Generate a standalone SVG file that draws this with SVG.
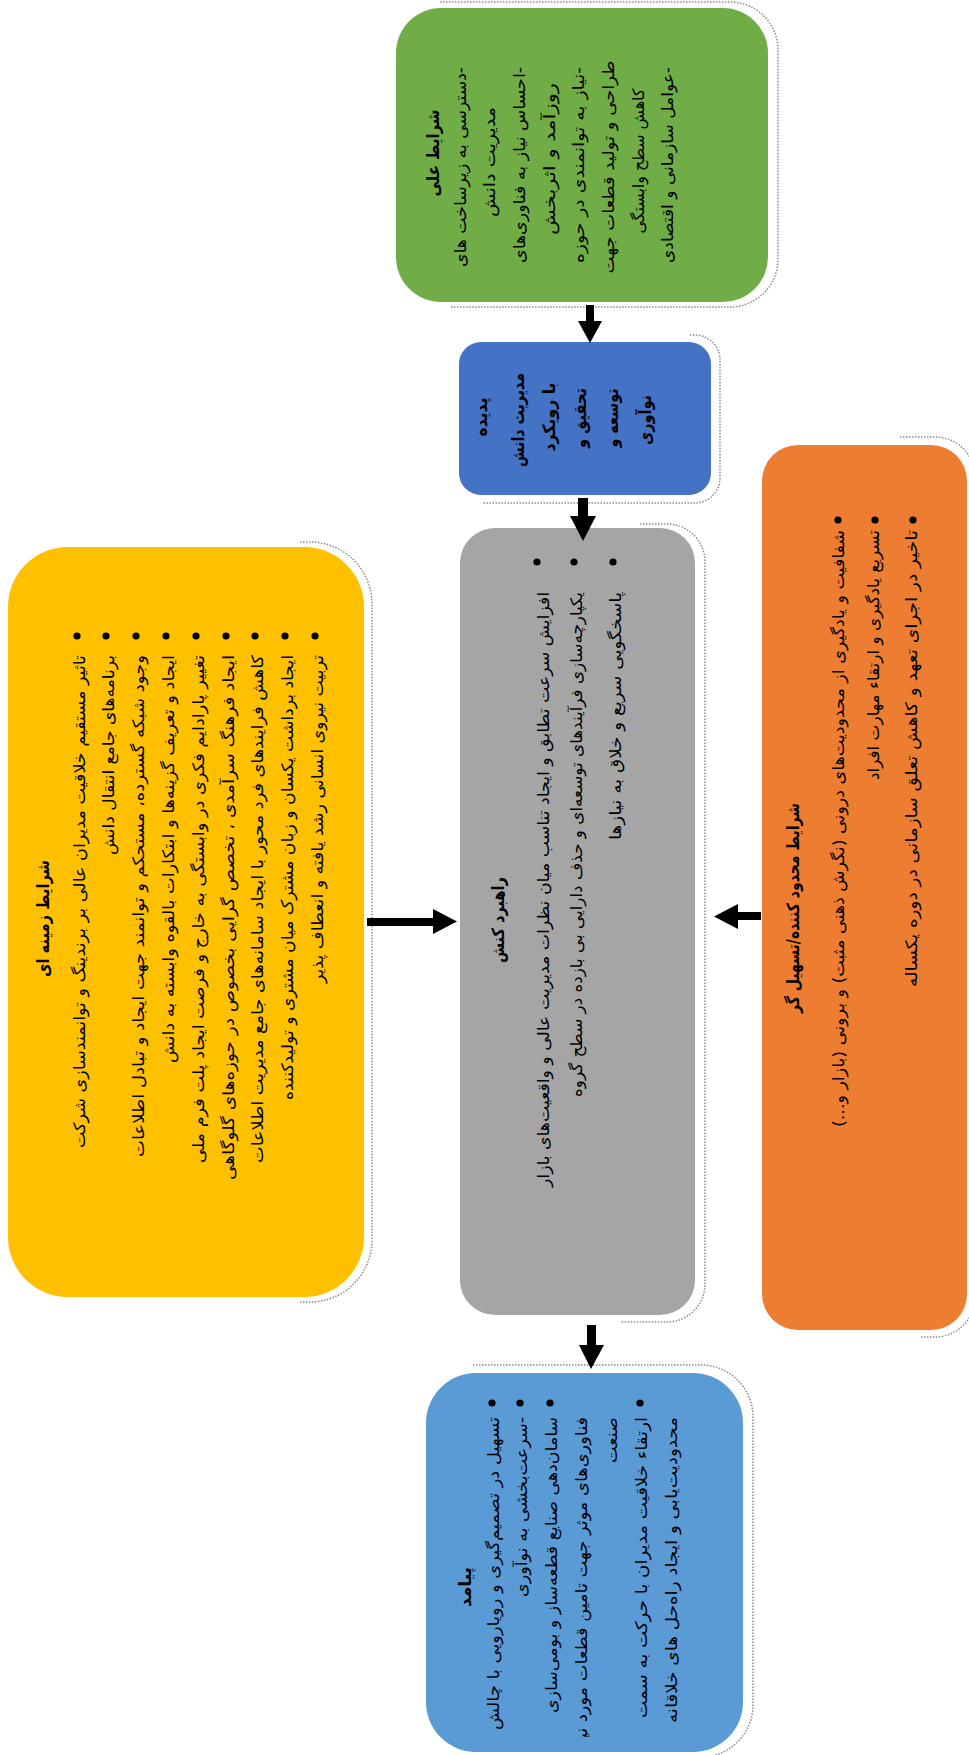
<svg xmlns="http://www.w3.org/2000/svg" width="969" height="1755" viewBox="0 0 969 1755">
<style>
.t{font-family:'DejaVu Sans','Noto Sans',sans-serif;font-size:16px;fill:#000;text-anchor:middle;direction:rtl;unicode-bidi:embed}
.b{font-weight:bold;font-size:17px}
.sh{fill:none;stroke:#8c8c8c;stroke-width:1.5;stroke-dasharray:1.5 1.5}
.dot{fill:#000}
.arr{fill:#000}
</style>
<defs>
<clipPath id="clipB"><rect x="426" y="1373" width="320" height="364"/></clipPath>
</defs>
<rect width="969" height="1755" fill="#fff"/>

<g id="node-green">
<path class="sh" d="M440,2 H730 A48,48 0 0 1 778,50 V259 A48,48 0 0 1 730,307 H450"/>
<rect x="396" y="8" width="372" height="294" rx="45" fill="#70AD47"/>
<text class="t b" transform="translate(439,153) rotate(-90)" textLength="87" lengthAdjust="spacingAndGlyphs">شرایط علی</text>
<text class="t" transform="translate(466,167) rotate(-90)" textLength="200" lengthAdjust="spacingAndGlyphs">-دسترسی به زیرساخت های</text>
<text class="t" transform="translate(495,162) rotate(-90)" textLength="110" lengthAdjust="spacingAndGlyphs">مدیریت دانش</text>
<text class="t" transform="translate(525,165) rotate(-90)" textLength="196" lengthAdjust="spacingAndGlyphs">-احساس نیاز به فناوری&#8204;های</text>
<text class="t" transform="translate(555,159) rotate(-90)" textLength="152" lengthAdjust="spacingAndGlyphs">روزآمد و اثربخش</text>
<text class="t" transform="translate(584,165) rotate(-90)" textLength="196" lengthAdjust="spacingAndGlyphs">-نیاز به توانمندی در حوزه</text>
<text class="t" transform="translate(614,167) rotate(-90)" textLength="213" lengthAdjust="spacingAndGlyphs">طراحی و تولید قطعات جهت</text>
<text class="t" transform="translate(644,161) rotate(-90)" textLength="145" lengthAdjust="spacingAndGlyphs">کاهش سطح وابستگی</text>
<text class="t" transform="translate(673,165) rotate(-90)" textLength="196" lengthAdjust="spacingAndGlyphs">-عوامل سازمانی و اقتصادی</text>
</g>

<g id="node-blue">
<path class="sh" d="M690,335 H695 A25,25 0 0 1 720,360 V478 A25,25 0 0 1 695,503 H483"/>
<rect x="459" y="342" width="252" height="153" rx="22" fill="#4472C4"/>
<text class="t b" transform="translate(487,417) rotate(-90)" textLength="39" lengthAdjust="spacingAndGlyphs">پدیده</text>
<text class="t b" transform="translate(524,420) rotate(-90)" textLength="94" lengthAdjust="spacingAndGlyphs">مدیریت دانش</text>
<text class="t b" transform="translate(555,417) rotate(-90)" textLength="69" lengthAdjust="spacingAndGlyphs">با رویکرد</text>
<text class="t b" transform="translate(586,418) rotate(-90)" textLength="60" lengthAdjust="spacingAndGlyphs">تحقیق و</text>
<text class="t b" transform="translate(618,418) rotate(-90)" textLength="59" lengthAdjust="spacingAndGlyphs">توسعه و</text>
<text class="t b" transform="translate(651,420) rotate(-90)" textLength="50" lengthAdjust="spacingAndGlyphs">نوآوری</text>
</g>

<g id="node-gray">
<path class="sh" d="M640,524 H667 A38,38 0 0 1 705,562 V1284 A38,38 0 0 1 667,1322 H620"/>
<rect x="460" y="528" width="235" height="787" rx="35" fill="#A5A5A5"/>
<text class="t b" transform="translate(504,920) rotate(-90)" textLength="86" lengthAdjust="spacingAndGlyphs">راهبرد کنش</text>
<circle class="dot" cx="537" cy="562" r="3.6"/>
<circle class="dot" cx="574" cy="562" r="3.6"/>
<circle class="dot" cx="613" cy="562" r="3.6"/>
<text class="t" transform="translate(549,889.5) rotate(-90)" textLength="595" lengthAdjust="spacingAndGlyphs">افزایش سرعت تطابق و ایجاد تناسب میان نظرات مدیریت عالی و واقعیت&#8204;های بازار</text>
<text class="t" transform="translate(582,844.5) rotate(-90)" textLength="505" lengthAdjust="spacingAndGlyphs">یکپارچه&#8204;سازی فرآیندهای توسعه&#8204;ای و  حذف دارایی بی بازده در سطح گروه</text>
<text class="t" transform="translate(621,716) rotate(-90)" textLength="248" lengthAdjust="spacingAndGlyphs">پاسخگویی سریع و خلاق به نیازها</text>
</g>

<g id="node-yellow">
<path class="sh" d="M300,542 H310 A62,62 0 0 1 372,604 V1240 A62,62 0 0 1 310,1302 H300"/>
<rect x="8" y="547" width="356" height="750" rx="60" fill="#FFC000"/>
<text class="t b" transform="translate(49,918.5) rotate(-90)" textLength="117" lengthAdjust="spacingAndGlyphs">شرایط زمینه ای</text>
<circle class="dot" cx="77" cy="636" r="3.6"/>
<circle class="dot" cx="106" cy="636" r="3.6"/>
<circle class="dot" cx="136" cy="636" r="3.6"/>
<circle class="dot" cx="166" cy="636" r="3.6"/>
<circle class="dot" cx="196" cy="636" r="3.6"/>
<circle class="dot" cx="226" cy="636" r="3.6"/>
<circle class="dot" cx="255" cy="636" r="3.6"/>
<circle class="dot" cx="285" cy="636" r="3.6"/>
<circle class="dot" cx="315" cy="636" r="3.6"/>
<text class="t" transform="translate(85,901.5) rotate(-90)" textLength="493" lengthAdjust="spacingAndGlyphs">تاثیر مستقیم خلاقیت مدیران عالی بر برندینگ و توانمندسازی شرکت</text>
<text class="t" transform="translate(114,755) rotate(-90)" textLength="200" lengthAdjust="spacingAndGlyphs">برنامه&#8204;های جامع انتقال دانش</text>
<text class="t" transform="translate(144,906) rotate(-90)" textLength="502" lengthAdjust="spacingAndGlyphs">وجود شبکه گسترده، مستحکم و توانمند جهت ایجاد و تبادل اطلاعات</text>
<text class="t" transform="translate(174,859) rotate(-90)" textLength="408" lengthAdjust="spacingAndGlyphs">ایجاد و تعریف گزینه&#8204;ها و ابتکارات بالقوه وابسته به دانش</text>
<text class="t" transform="translate(204,909) rotate(-90)" textLength="508" lengthAdjust="spacingAndGlyphs">تغییر پارادایم فکری در وابستگی به خارج و فرصت ایجاد پلت فرم ملی</text>
<text class="t" transform="translate(234,917.5) rotate(-90)" textLength="525" lengthAdjust="spacingAndGlyphs">ایجاد فرهنگ سرآمدی ، تخصص گرایی بخصوص در حوزه&#8204;های گلوگاهی</text>
<text class="t" transform="translate(263,909) rotate(-90)" textLength="508" lengthAdjust="spacingAndGlyphs">کاهش فرایندهای فرد محور با ایجاد سامانه&#8204;های جامع مدیریت اطلاعات</text>
<text class="t" transform="translate(293,877.5) rotate(-90)" textLength="445" lengthAdjust="spacingAndGlyphs">ایجاد برداشت یکسان و زبان مشترک میان مشتری و تولیدکننده</text>
<text class="t" transform="translate(323,819) rotate(-90)" textLength="328" lengthAdjust="spacingAndGlyphs">تربیت نیروی انسانی رشد یافته و انعطاف پذیر</text>
</g>

<g id="node-orange">
<path class="sh" d="M900,437 H935 A40,40 0 0 1 975,477 V1297 A40,40 0 0 1 935,1337 H920"/>
<rect x="762" y="445" width="205" height="885" rx="36" fill="#ED7D31"/>
<text class="t b" transform="translate(799,908) rotate(-90)" textLength="210" lengthAdjust="spacingAndGlyphs">شرایط محدود کننده/تسهیل گر</text>
<circle class="dot" cx="838" cy="520" r="3.6"/>
<circle class="dot" cx="875" cy="520" r="3.6"/>
<circle class="dot" cx="913" cy="520" r="3.6"/>
<text class="t" transform="translate(844,828.5) rotate(-90)" textLength="597" lengthAdjust="spacingAndGlyphs">شفافیت و یادگیری از محدودیت&#8204;های درونی (نگرش ذهنی مثبت) و برونی (بازار و...)</text>
<text class="t" transform="translate(879,655) rotate(-90)" textLength="250" lengthAdjust="spacingAndGlyphs">تسریع یادگیری و ارتقاء مهارت افراد</text>
<text class="t" transform="translate(917,758.5) rotate(-90)" textLength="457" lengthAdjust="spacingAndGlyphs">تاخیر در اجرای تعهد و کاهش تعلق سازمانی در دوره یکساله</text>
</g>

<g id="node-outcome">
<path class="sh" d="M473,1365 H701 A52,52 0 0 1 753,1417 V1705 A52,52 0 0 1 701,1757"/>
<rect x="426" y="1373" width="317" height="379" rx="50" fill="#5B9BD5"/>
<text class="t b" transform="translate(471,1587) rotate(-90)" textLength="40" lengthAdjust="spacingAndGlyphs">پیامد</text>
<circle class="dot" cx="492" cy="1403" r="3.6"/>
<circle class="dot" cx="520" cy="1403" r="3.6"/>
<circle class="dot" cx="550" cy="1403" r="3.6"/>
<circle class="dot" cx="640" cy="1403" r="3.6"/>
<text class="t" transform="translate(499,1573.5) rotate(-90)" textLength="313" lengthAdjust="spacingAndGlyphs">تسهیل در تصمیم&#8204;گیری و رویارویی با چالش</text>
<text class="t" transform="translate(527,1507) rotate(-90)" textLength="180" lengthAdjust="spacingAndGlyphs">-سرعت&#8204;بخشی به نوآوری</text>
<text class="t" transform="translate(557,1565) rotate(-90)" textLength="296" lengthAdjust="spacingAndGlyphs">سامان&#8204;دهی صنایع قطعه&#8204;ساز و بومی&#8204;سازی</text>
<g clip-path="url(#clipB)">
<text class="t" transform="translate(587,1584.5) rotate(-90)" textLength="335" lengthAdjust="spacingAndGlyphs">فناوری&#8204;های موثر جهت تامین قطعات مورد نیاز</text>
</g>
<text class="t" transform="translate(617,1440) rotate(-90)" textLength="46" lengthAdjust="spacingAndGlyphs">صنعت</text>
<text class="t" transform="translate(647,1567.5) rotate(-90)" textLength="301" lengthAdjust="spacingAndGlyphs">ارتقاء خلاقیت مدیران با حرکت به سمت</text>
<text class="t" transform="translate(677,1570) rotate(-90)" textLength="306" lengthAdjust="spacingAndGlyphs">محدودیت&#8204;یابی و ایجاد راه&#8204;حل های خلاقانه</text>
</g>

<g id="connectors">
<polygon class="arr" points="586,305 594,305 594,321 602,321 590,343 578,321 586,321"/>
<polygon class="arr" points="578,498 588,498 588,516 596,516 583,541 570,516 578,516"/>
<polygon class="arr" points="587,1325 596,1325 596,1345 604,1345 591,1369 579,1345 587,1345"/>
<polygon class="arr" points="367,918 433,918 433,909 457,921.5 433,934 433,926 367,926"/>
<polygon class="arr" points="761,912 738,912 738,904 714,916.5 738,929 738,920 761,920"/>
</g>
</svg>
